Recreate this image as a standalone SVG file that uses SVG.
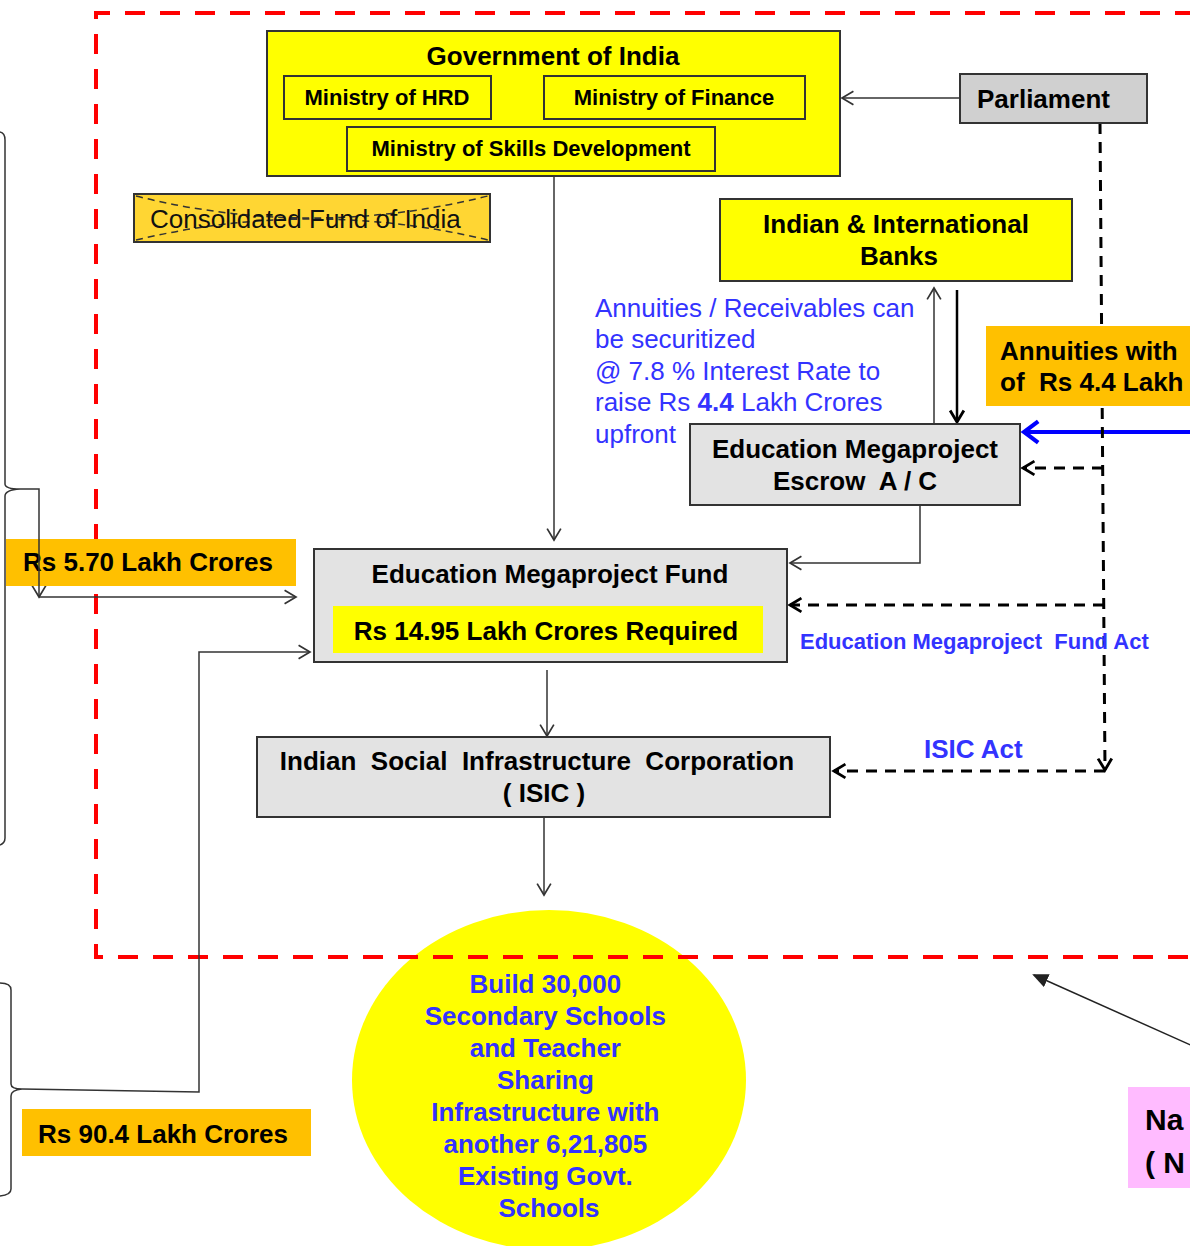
<svg xmlns="http://www.w3.org/2000/svg" width="1190" height="1246" viewBox="0 0 1190 1246">
<style>
text{font-family:"Liberation Sans",Arial,sans-serif;}
.b{font-weight:bold;fill:#000;}
.t26{font-size:26px;}
.t22{font-size:22px;}
.blue{fill:#3333ff;}
.box{stroke:#333;stroke-width:2;}
.conn{fill:none;stroke:#333;stroke-width:1.5;}
.dash{fill:none;stroke:#000;stroke-width:3;stroke-dasharray:11 8;}
</style>
<defs>
<marker id="open" markerUnits="userSpaceOnUse" markerWidth="16" markerHeight="18" refX="11" refY="7" orient="auto" viewBox="0 0 14 14">
<path d="M1,1 L11,7 L1,13" fill="none" stroke="#333" stroke-width="1.5"/>
</marker>
<marker id="openB" markerUnits="userSpaceOnUse" markerWidth="16" markerHeight="18" refX="11" refY="7" orient="auto" viewBox="0 0 14 14">
<path d="M1,1 L11,7 L1,13" fill="none" stroke="#000" stroke-width="2.5"/>
</marker>
<marker id="openBlue" markerUnits="userSpaceOnUse" markerWidth="22" markerHeight="26" refX="14" refY="11" orient="auto" viewBox="0 0 18 22">
<path d="M2,2 L14,11 L2,20" fill="none" stroke="#0000ff" stroke-width="3.5"/>
</marker>
<marker id="fill" markerUnits="userSpaceOnUse" markerWidth="16" markerHeight="14" refX="14" refY="7" orient="auto" viewBox="0 0 16 14">
<path d="M0,0 L16,7 L0,14 Z" fill="#222"/>
</marker>
</defs>

<g id="schools">
<ellipse cx="549" cy="1080" rx="197" ry="170" fill="#ffff00"/>
</g>

<path d="M1195,13 H96 V957 H1195" fill="none" stroke="#ff0000" stroke-width="4" stroke-dasharray="20 15"/>

<g id="connectors">
<path class="conn" d="M960,98 H842" marker-end="url(#open)"/>
<path class="conn" d="M554,176 V540" marker-end="url(#open)"/>
<path class="conn" d="M934,428 V288" marker-end="url(#open)"/>
<path fill="none" stroke="#000" stroke-width="2.5" d="M957,290 V422" marker-end="url(#openB)"/>
<path class="conn" d="M920,505 V563 H790" marker-end="url(#open)"/>
<path class="conn" d="M547,670 V736" marker-end="url(#open)"/>
<path class="conn" d="M544,817 V895" marker-end="url(#open)"/>
<path fill="none" stroke="#0000ff" stroke-width="4" d="M1195,432 H1024" marker-end="url(#openBlue)"/>
<path class="dash" d="M1100,123 L1105,770" marker-end="url(#openB)"/>
<path class="dash" d="M1103,468 H1023" marker-end="url(#openB)"/>
<path class="dash" d="M1104,605 H790" marker-end="url(#openB)"/>
<path class="dash" d="M1105,771 H834" marker-end="url(#openB)"/>
<path class="conn" d="M0,132 Q5,133 5,140 V484 Q5,489 20,489 Q5,490 5,496 V838 Q5,843 0,845"/>
<path class="conn" d="M20,489 H39 V597" marker-end="url(#open)"/>
<path class="conn" d="M39,597 H296" marker-end="url(#open)"/>
<path class="conn" d="M0,983 Q11,983 11,990 V1084 Q11,1089 22,1089 Q11,1090 11,1096 V1189 Q11,1195 0,1196"/>
<path class="conn" d="M22,1089 L199,1092 V652 H310" marker-end="url(#open)"/>
<path fill="none" stroke="#222" stroke-width="1.5" d="M1195,1047 L1034,975" marker-end="url(#fill)"/>
</g>

<g id="gov">
<rect class="box" x="267" y="31" width="573" height="145" fill="#ffff00"/>
<text class="b t26" x="553" y="65" text-anchor="middle">Government of India</text>
</g>
<g id="hrd">
<rect class="box" x="284" y="76" width="207" height="43" fill="#ffff00"/>
<text class="b t22" x="387" y="105" text-anchor="middle">Ministry of HRD</text>
</g>
<g id="finance">
<rect class="box" x="544" y="76" width="261" height="43" fill="#ffff00"/>
<text class="b t22" x="674" y="105" text-anchor="middle">Ministry of Finance</text>
</g>
<g id="skills">
<rect class="box" x="347" y="127" width="368" height="44" fill="#ffff00"/>
<text class="b t22" x="531" y="156" text-anchor="middle">Ministry of Skills Development</text>
</g>
<g id="parliament">
<rect class="box" x="960" y="74" width="187" height="49" fill="#d0d0d0"/>
<text class="b t26" x="977" y="108">Parliament</text>
</g>
<g id="consolidated">
<rect class="box" x="134" y="194" width="356" height="48" fill="#ffd633"/>
<path d="M136,196 Q312,240 488,196 M136,240 Q312,198 488,240" fill="none" stroke="#333" stroke-width="1.5" stroke-dasharray="7 5"/>
<text class="t26" x="150" y="228" fill="#111">Consolidated Fund of India</text>
</g>
<g id="banks">
<rect class="box" x="720" y="199" width="352" height="82" fill="#ffff00"/>
<text class="b t26" x="896" y="233" text-anchor="middle">Indian &amp; International</text>
<text class="b t26" x="899" y="265" text-anchor="middle">Banks</text>
</g>
<g id="securitize">
<text class="t26 blue" x="595" y="317">Annuities / Receivables can</text>
<text class="t26 blue" x="595" y="348">be securitized</text>
<text class="t26 blue" x="595" y="380">@ 7.8 % Interest Rate to</text>
<text class="t26 blue" x="595" y="411">raise Rs <tspan font-weight="bold">4.4</tspan> Lakh Crores</text>
<text class="t26 blue" x="595" y="443">upfront</text>
</g>
<g id="annuities">
<rect x="986" y="326" width="210" height="80" fill="#ffc000"/>
<text class="b t26" x="1000" y="360">Annuities with</text>
<text class="b t26" x="1000" y="391" xml:space="preserve">of  Rs 4.4 Lakh</text>
</g>
<g id="escrow">
<rect class="box" x="690" y="424" width="330" height="81" fill="#e3e3e3"/>
<text class="b t26" x="855" y="458" text-anchor="middle">Education Megaproject</text>
<text class="b t26" x="855" y="490" text-anchor="middle" xml:space="preserve">Escrow  A / C</text>
</g>
<g id="fund">
<rect class="box" x="314" y="549" width="473" height="113" fill="#e3e3e3"/>
<text class="b t26" x="550" y="583" text-anchor="middle">Education Megaproject Fund</text>
<rect x="333" y="606" width="430" height="47" fill="#ffff00"/>
<text class="b t26" x="546" y="640" text-anchor="middle">Rs 14.95 Lakh Crores Required</text>
</g>
<g id="fundact">
<text class="b t22 blue" x="800" y="649" xml:space="preserve">Education Megaproject  Fund Act</text>
</g>
<g id="isicact">
<text class="b t26 blue" x="924" y="758">ISIC Act</text>
</g>
<g id="isic">
<rect class="box" x="257" y="737" width="573" height="80" fill="#e3e3e3"/>
<text class="b t26" x="537" y="770" text-anchor="middle" xml:space="preserve">Indian  Social  Infrastructure  Corporation</text>
<text class="b t26" x="544" y="802" text-anchor="middle">( ISIC )</text>
</g>
<g id="rs570">
<rect x="6" y="539" width="290" height="47" fill="#ffc000"/>
<text class="b t26" x="23" y="571">Rs 5.70 Lakh Crores</text>
</g>
<path class="conn" d="M39,539 V586"/>
<g id="rs904">
<rect x="22" y="1109" width="289" height="47" fill="#ffc000"/>
<text class="b t26" x="38" y="1143">Rs 90.4 Lakh Crores</text>
</g>
<g id="schools-text">
<text class="b t26 blue" text-anchor="middle" x="549">
<tspan x="549" y="993">Build 30,000</tspan>
<tspan x="549" y="1025">Secondary Schools</tspan>
<tspan x="549" y="1057">and Teacher</tspan>
<tspan x="549" y="1089">Sharing</tspan>
<tspan x="549" y="1121">Infrastructure with</tspan>
<tspan x="549" y="1153">another 6,21,805</tspan>
<tspan x="549" y="1185">Existing Govt.</tspan>
<tspan x="549" y="1217">Schools</tspan>
</text>
</g>
<g id="pink">
<rect x="1128" y="1087" width="70" height="101" fill="#ffbbff"/>
<text class="b" font-size="30" x="1145" y="1130">Na</text>
<text class="b" font-size="30" x="1145" y="1173">( N</text>
</g>
</svg>
